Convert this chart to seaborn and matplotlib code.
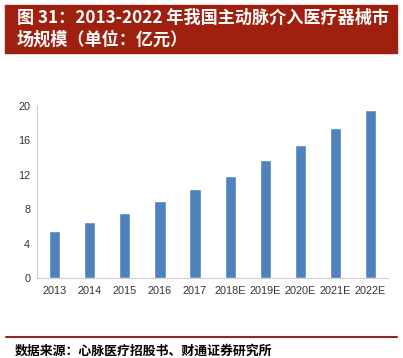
import matplotlib
matplotlib.use('Agg')
import matplotlib.pyplot as plt
import seaborn as sns
import pandas as pd
from matplotlib.patches import Rectangle

years = ['2013', '2014', '2015', '2016', '2017', '2018E', '2019E', '2020E', '2021E', '2022E']
market = [5.5, 6.5, 7.5, 8.9, 10.3, 11.9, 13.7, 15.5, 17.4, 19.5]
yticks = [0, 4, 8, 12, 16, 20]

title = '图 31：2013-2022 年我国主动脉介入医疗器械市\n场规模（单位：亿元）'
source = '数据来源：心脉医疗招股书、财通证券研究所'

sns.set_style('white')
plt.rcParams['font.family'] = ['Liberation Sans', 'Noto Sans CJK SC', 'DejaVu Sans']

df = pd.DataFrame({'year': years, 'value': market})

fig = plt.figure(figsize=(4.03, 3.58), dpi=100)
ax = fig.add_axes([0.092, 0.2235, 0.871, 0.481])
sns.barplot(data=df, x='year', y='value', color='#4F81BD', saturation=1, width=0.32, ax=ax)

ax.set_xlim(-0.5, 9.5)
ax.set_ylim(0, 20)
ax.set_yticks(yticks)
ax.set_xlabel('')
ax.set_ylabel('')
ax.tick_params(axis='y', length=3, color='#bfbfbf', labelsize=7.8, labelcolor='#333333', pad=2)
ax.tick_params(axis='x', length=0, labelsize=7.8, labelcolor='#333333', pad=6)
sns.despine(ax=ax)
for s in ['left', 'bottom']:
    ax.spines[s].set_color('#d0d0d0')
    ax.spines[s].set_linewidth(0.8)

# title banner
fig.patches.append(Rectangle((5 / 403, 1 - 53 / 358), 392 / 403, 48 / 358,
                             transform=fig.transFigure, color='#A0200F', zorder=0))
fig.text(17 / 403, 1 - 29 / 358, title, color='white', fontsize=12.3, fontweight='bold',
         family=['Noto Sans CJK SC', 'DejaVu Sans'], va='center', ha='left', linespacing=1.3)

# bottom rule and source
fig.add_artist(plt.Line2D([6 / 403, 397 / 403], [1 - 337 / 358, 1 - 337 / 358],
                          transform=fig.transFigure, color='#8B2A1E', lw=1.5))
fig.text(15 / 403, 1 - 351 / 358, source, color='black', fontsize=9.3, fontweight='bold',
         family=['Noto Sans CJK SC', 'DejaVu Sans'], va='center', ha='left')

fig.savefig('out.png', dpi=100)
